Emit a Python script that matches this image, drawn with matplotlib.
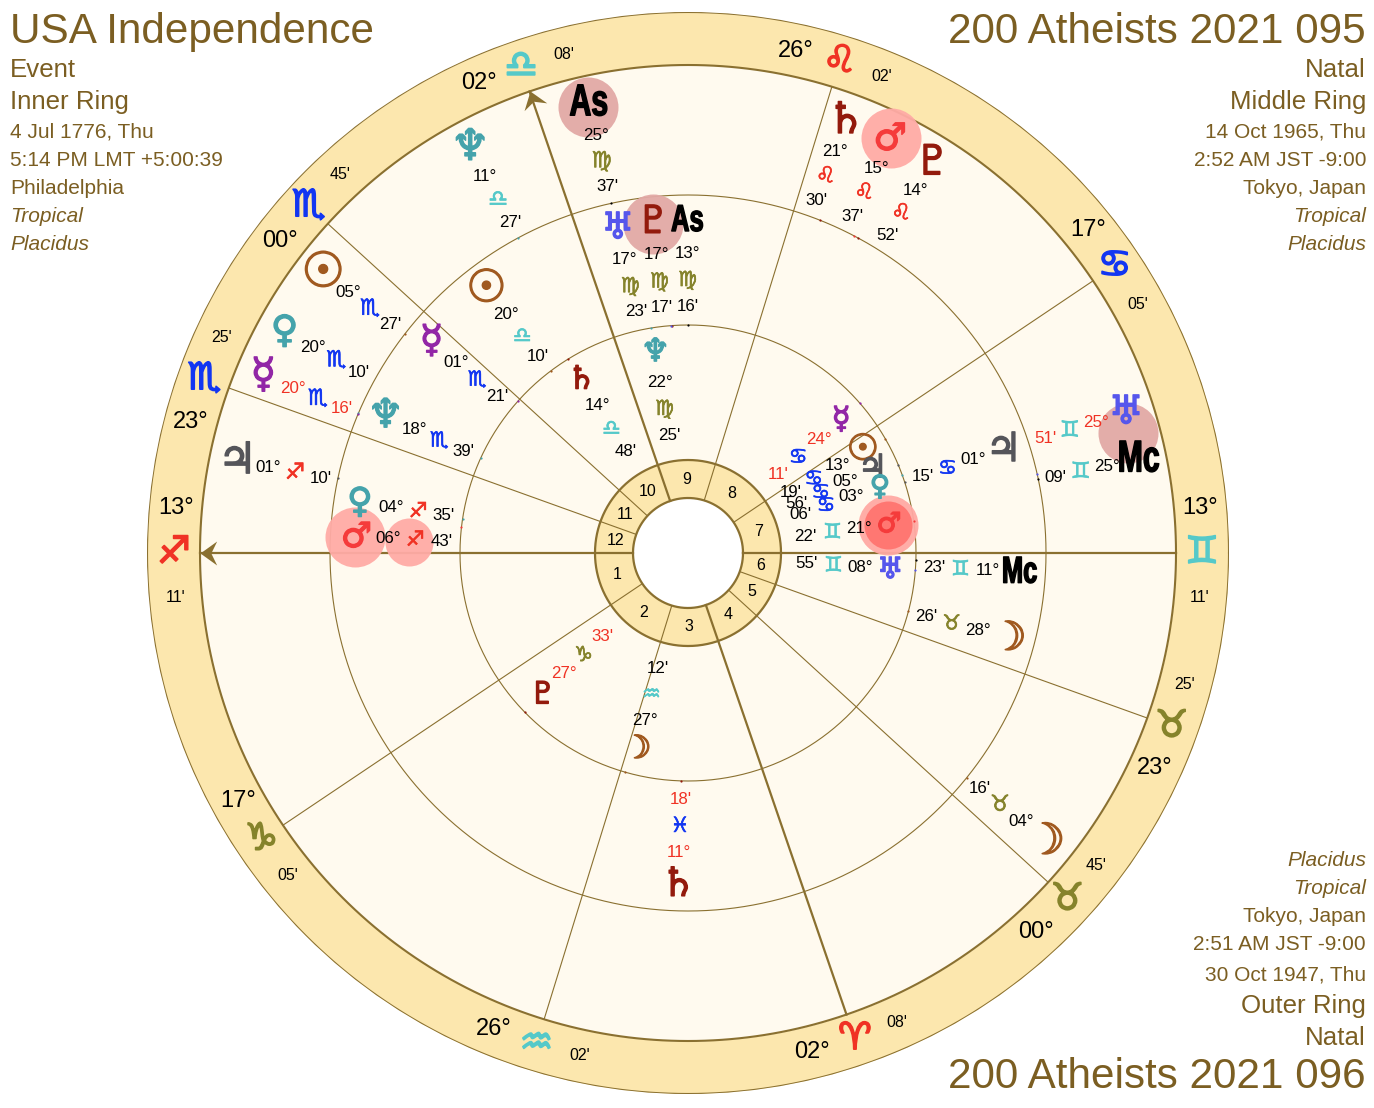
import matplotlib
matplotlib.use("Agg")
import matplotlib.pyplot as plt
import matplotlib.patheffects as pe
from matplotlib.markers import MarkerStyle
from matplotlib.path import Path
from matplotlib.transforms import Affine2D
import numpy as np

plt.rcParams['font.family'] = ['Liberation Sans', 'DejaVu Sans']

### Data
SIGNS = ['Ari', 'Tau', 'Gem', 'Can', 'Leo', 'Vir', 'Lib', 'Sco', 'Sag', 'Cap', 'Aqu', 'Pis']
SIGN_GLYPHS = ['\u2648', '\u2649', '\u264a', '\u264b', '\u264c', '\u264d',
               '\u264e', '\u264f', '\u2650', '\u2651', '\u2652', '\u2653']
SIGN_COLORS = ['#F03224', '#85832B', '#55C9C9', '#1236F2'] * 3

PLANET_GLYPHS = {'Sun': '\u2609', 'Moon': '\u263d', 'Mercury': '\u263f', 'Venus': '\u2640',
                 'Mars': '\u2642', 'Jupiter': '\u2643', 'Saturn': '\u2644', 'Uranus': '\u2645',
                 'Neptune': '\u2646', 'Pluto': '\u2647', 'As': 'As', 'Mc': 'Mc'}
PLANET_COLORS = {'Sun': '#A0591F', 'Moon': '#A0591F', 'Mercury': '#9226A6', 'Venus': '#45A3AB',
                 'Mars': '#F53B3B', 'Jupiter': '#55555A', 'Saturn': '#931A0C', 'Uranus': '#5656EC',
                 'Neptune': '#45A3AB', 'Pluto': '#931A0C', 'As': '#000000', 'Mc': '#000000'}
# DejaVu draws these ones smaller than the reference font
PLANET_SCALE = {'Sun': 1.3, 'Moon': 1.15, 'Neptune': 1.15, 'Uranus': 1.05, 'Saturn': 1.15, 'Pluto': 1.1,
                'Jupiter': 1.15, 'Mercury': 1.1, 'Venus': 1.0, 'Mars': 1.0}

# house cusps of the outer chart (sign, degree, minute)
CUSP_SIGNS = ['Sag', 'Cap', 'Aqu', 'Ari', 'Tau', 'Tau', 'Gem', 'Can', 'Leo', 'Lib', 'Sco', 'Sco']
CUSP_DEG = [13, 17, 26, 2, 0, 23, 13, 17, 26, 2, 0, 23]
CUSP_MIN = [11, 5, 2, 8, 45, 25, 11, 5, 2, 8, 45, 25]
HOUSE_NUMBERS = ['1', '2', '3', '4', '5', '6', '7', '8', '9', '10', '11', '12']

# outer ring
OUTER_NAMES = ['As', 'Saturn', 'Mars', 'Pluto', 'Neptune', 'Sun', 'Venus', 'Mercury', 'Jupiter', 'Moon', 'Uranus', 'Mc']
OUTER_SIGNS = ['Vir', 'Leo', 'Leo', 'Leo', 'Lib', 'Sco', 'Sco', 'Sco', 'Sag', 'Tau', 'Gem', 'Gem']
OUTER_DEG = [25, 21, 15, 14, 11, 5, 20, 20, 1, 4, 25, 25]
OUTER_MIN = [37, 30, 37, 52, 27, 27, 10, 16, 10, 16, 51, 9]
OUTER_RETRO = ['Mercury', 'Uranus']
OUTER_NUDGE = [0, 1.6, 1.5, -3.8, 0, 0.2, -5.7, 0.3, 0.5, 0, 5.1, -0.3]

# middle ring
MIDDLE_NAMES = ['As', 'Pluto', 'Uranus', 'Sun', 'Mercury', 'Neptune', 'Venus', 'Mars', 'Saturn', 'Moon', 'Mc', 'Jupiter']
MIDDLE_SIGNS = ['Vir', 'Vir', 'Vir', 'Lib', 'Sco', 'Sco', 'Sag', 'Sag', 'Pis', 'Tau', 'Gem', 'Can']
MIDDLE_DEG = [13, 17, 17, 20, 1, 18, 4, 6, 11, 28, 11, 1]
MIDDLE_MIN = [16, 17, 23, 10, 21, 39, 35, 43, 18, 26, 23, 15]
MIDDLE_RETRO = ['Saturn']
MIDDLE_NUDGE = [0, 1.9, 8, 0.4, 2.4, 0.2, -0.2, 3.7, 0.2, -0.25, -1.6, 0]

# inner ring
INNER_NAMES = ['Pluto', 'Moon', 'Saturn', 'Neptune', 'Mercury', 'Sun', 'Jupiter', 'Venus', 'Mars', 'Uranus']
INNER_SIGNS = ['Cap', 'Aqu', 'Lib', 'Vir', 'Can', 'Can', 'Can', 'Can', 'Gem', 'Gem']
INNER_DEG = [27, 27, 14, 22, 24, 13, 5, 3, 21, 8]
INNER_MIN = [33, 12, 48, 25, 11, 19, 56, 6, 22, 55]
INNER_RETRO = ['Pluto', 'Mercury']
INNER_NUDGE = [0, 1.5, 0, 0, 0, 0.4, 1.8, -0.9, 0, -0.6]

# aspect highlights: chart angle, radius, diameter in px, colour
HL_ANGLE = [102.6, 63.9, 96.0, 15.3, 177.25, 177.7, 8.0, 8.0]
HL_RADIUS = [457, 462, 331, 456, 333, 279, 202, 202]
HL_SIZE = [60, 60, 60, 60, 60, 48, 60, 48]
HL_COLOR = ['#E2A9A6', '#FFABA6', '#E2A9A6', '#E2A9A6', '#FFABA6', '#FFABA6', '#FFA9A3', '#FF7470']

LEFT_TEXT = ['USA Independence', 'Event', 'Inner Ring', '4 Jul 1776, Thu', '5:14 PM LMT +5:00:39',
             'Philadelphia', 'Tropical', 'Placidus']
RIGHT_TEXT = ['200 Atheists 2021 095', 'Natal', 'Middle Ring', '14 Oct 1965, Thu', '2:52 AM JST -9:00',
              'Tokyo, Japan', 'Tropical', 'Placidus']
BOTTOM_TEXT = ['200 Atheists 2021 096', 'Natal', 'Outer Ring', '30 Oct 1947, Thu', '2:51 AM JST -9:00',
               'Tokyo, Japan', 'Tropical', 'Placidus']

### Style
GOLD = '#8A7030'
TXT = '#7B5E22'
W, H = 1374, 1108
CX, CY = 688, 553
R_OUT, R_BAND, R_MID, R_IN, R_HUB, R_CORE = 541, 488, 358, 228, 93, 55
LON_LEFT = 253 + 11 / 60  # longitude sitting at the left of the wheel


class Squeeze(pe.AbstractPathEffect):
    """ narrow and fatten a text, there is no condensed heavy font here """
    def __init__(self, sx, lw):
        super().__init__()
        self.sx = sx
        self.lw = lw

    def draw_path(self, renderer, gc, tpath, affine, rgbFace=None):
        mid = tpath.get_extents().x0 + tpath.get_extents().width / 2
        trans = Affine2D().translate(-mid, 0).scale(self.sx, 1).translate(mid, 0) + affine
        gc0 = renderer.new_gc()
        gc0.copy_properties(gc)
        gc0.set_linewidth(self.lw)
        gc0.set_foreground(rgbFace)
        renderer.draw_path(gc0, tpath, trans, rgbFace)
        gc0.restore()


def glyph(t, r, s, color, size, lw):
    return ax.text(t, r, s, color=color, fontsize=size, family='DejaVu Sans', ha='center', va='center',
                   zorder=5, path_effects=[pe.Stroke(linewidth=lw, foreground=color), pe.Normal()])


def longitude(sign, deg, minute):
    return SIGNS.index(sign) * 30 + deg + minute / 60


def angle(lon):
    """ chart angle in radians (counter clockwise from the right) of a longitude """
    return np.radians(180 + lon - LON_LEFT)


fig = plt.figure(figsize=(W / 100, H / 100), dpi=100, facecolor='white')
ax = fig.add_axes([(CX - R_OUT) / W, (H - CY - R_OUT) / H, 2 * R_OUT / W, 2 * R_OUT / H], projection='polar')
ax.set_rlim(0, R_OUT)
ax.axis('off')

# rings
circle = np.linspace(0, 2 * np.pi, 721)
ax.fill_between(circle, R_BAND, R_OUT, color='#FCE7AE', lw=0, zorder=1)
ax.fill_between(circle, R_CORE, R_BAND, color='#FFFAEF', lw=0, zorder=1)
ax.fill_between(circle, R_CORE, R_HUB, color='#FCE7AE', lw=0, zorder=1.5)
for r, lw in [(R_OUT, 1.5), (R_BAND, 1.5), (R_MID, 0.8), (R_IN, 0.8), (R_HUB, 1.6), (R_CORE, 1.6)]:
    ax.plot(circle, np.full(circle.size, r), color=GOLD, lw=lw, zorder=2)

# highlights under the glyphs
for a, r, s, c in zip(HL_ANGLE, HL_RADIUS, HL_SIZE, HL_COLOR):
    ax.scatter(np.radians(a), r, s=(s * 0.72) ** 2, color=c, lw=0, alpha=0.95, zorder=2.5)

# cusps
cusps = [longitude(s, d, m) for s, d, m in zip(CUSP_SIGNS, CUSP_DEG, CUSP_MIN)]
for i, lon in enumerate(cusps):
    t = angle(lon)
    angular = i in (0, 3, 6, 9)
    ax.plot([t, t], [R_CORE, R_BAND], color=GOLD, lw=1.6 if angular else 0.8, zorder=2)
    g = SIGNS.index(CUSP_SIGNS[i])
    glyph(t, 514, SIGN_GLYPHS[g], SIGN_COLORS[g], 27, 1.2)
    # degrees always on the left of the sign, on top when the sign is level with the centre
    side = np.sign(np.sin(t)) if abs(np.sin(t)) > 0.01 else np.sign(np.cos(t))
    ax.text(t + side * np.radians(5), 514, '%02d\u00b0' % CUSP_DEG[i], color='black', fontsize=17,
            ha='center', va='center', zorder=5)
    ax.text(t - side * np.radians(5), 514, "%02d'" % CUSP_MIN[i], color='black', fontsize=11.5,
            ha='center', va='center', zorder=5)
    # house number half way to the next cusp
    nxt = cusps[(i + 1) % 12]
    span = (nxt - lon) % 360
    ax.text(angle(lon + span / 2), 74, HOUSE_NUMBERS[i], color='black', fontsize=11.5,
            ha='center', va='center', zorder=5)

# arrow heads on As and Mc of the outer chart
head = Path([(0, 0), (-1, 0.72), (-0.65, 0), (-1, -0.72), (0, 0)], closed=True)
for i in (0, 9):
    t = angle(cusps[i])
    ax.plot([t], [R_BAND], ls='', ms=24, color=GOLD, mew=0, zorder=3,
            marker=MarkerStyle(head, transform=Affine2D().rotate(t)))


def draw_ring(names, signs, degs, mins, retro, nudge, radii, tick_r, planet_size, sign_size, point_size):
    r_glyph, r_deg, r_sign, r_min = radii
    for name, s, d, m, n in zip(names, signs, degs, mins, nudge):
        lon = longitude(s, d, m)
        t = angle(lon + n)
        col = '#F03224' if name in retro else 'black'
        if name in ('As', 'Mc'):
            ax.text(t, r_glyph, PLANET_GLYPHS[name], color='black', fontsize=point_size, fontweight='bold',
                    ha='center', va='center', zorder=5, path_effects=[Squeeze(0.68, 1.0)])
        else:
            glyph(t, r_glyph, PLANET_GLYPHS[name], PLANET_COLORS[name], planet_size * PLANET_SCALE[name], 1.0)
        g = SIGNS.index(s)
        ax.text(t, r_deg, '%02d\u00b0' % d, color=col, fontsize=12.2, ha='center', va='center', zorder=5)
        glyph(t, r_sign, SIGN_GLYPHS[g], SIGN_COLORS[g], sign_size, 0.5)
        ax.text(t, r_min, "%02d'" % m, color=col, fontsize=12.2, ha='center', va='center', zorder=5)
        # small tick at the real longitude
        ax.plot([angle(lon)], [tick_r], ls='', marker='o', ms=1.6, mew=0, color=PLANET_COLORS[name], zorder=4)


draw_ring(OUTER_NAMES, OUTER_SIGNS, OUTER_DEG, OUTER_MIN, OUTER_RETRO, OUTER_NUDGE,
          (460, 428, 401, 375), R_MID, 27, 16, 32)
draw_ring(MIDDLE_NAMES, MIDDLE_SIGNS, MIDDLE_DEG, MIDDLE_MIN, MIDDLE_RETRO, MIDDLE_NUDGE,
          (332, 300, 273, 247), R_IN, 25, 15, 27)
draw_ring(INNER_NAMES, INNER_SIGNS, INNER_DEG, INNER_MIN, INNER_RETRO, INNER_NUDGE,
          (203, 173, 146, 119), R_IN, 20, 15, 20)


# text blocks
def block(lines, x, ys, ha):
    sizes = [30.4, 18.6, 18.6, 15, 15, 15, 15, 15]
    for i, (line, y) in enumerate(zip(lines, ys)):
        style = 'italic' if line in ('Tropical', 'Placidus') else 'normal'
        shift = 3 if i == 0 else 1
        fig.text(x / W, 1 - (y + shift) / H, line, color=TXT, fontsize=sizes[i], style=style, ha=ha, va='center')


block(LEFT_TEXT, 10, [29, 69, 101, 131, 159, 187, 215, 243], 'left')
block(RIGHT_TEXT, 1366, [29, 69, 101, 131, 159, 187, 215, 243], 'right')
block(BOTTOM_TEXT, 1366, [1074, 1037, 1005, 974, 943, 915, 887, 859], 'right')

fig.savefig('out.png', dpi=100, facecolor='white')
